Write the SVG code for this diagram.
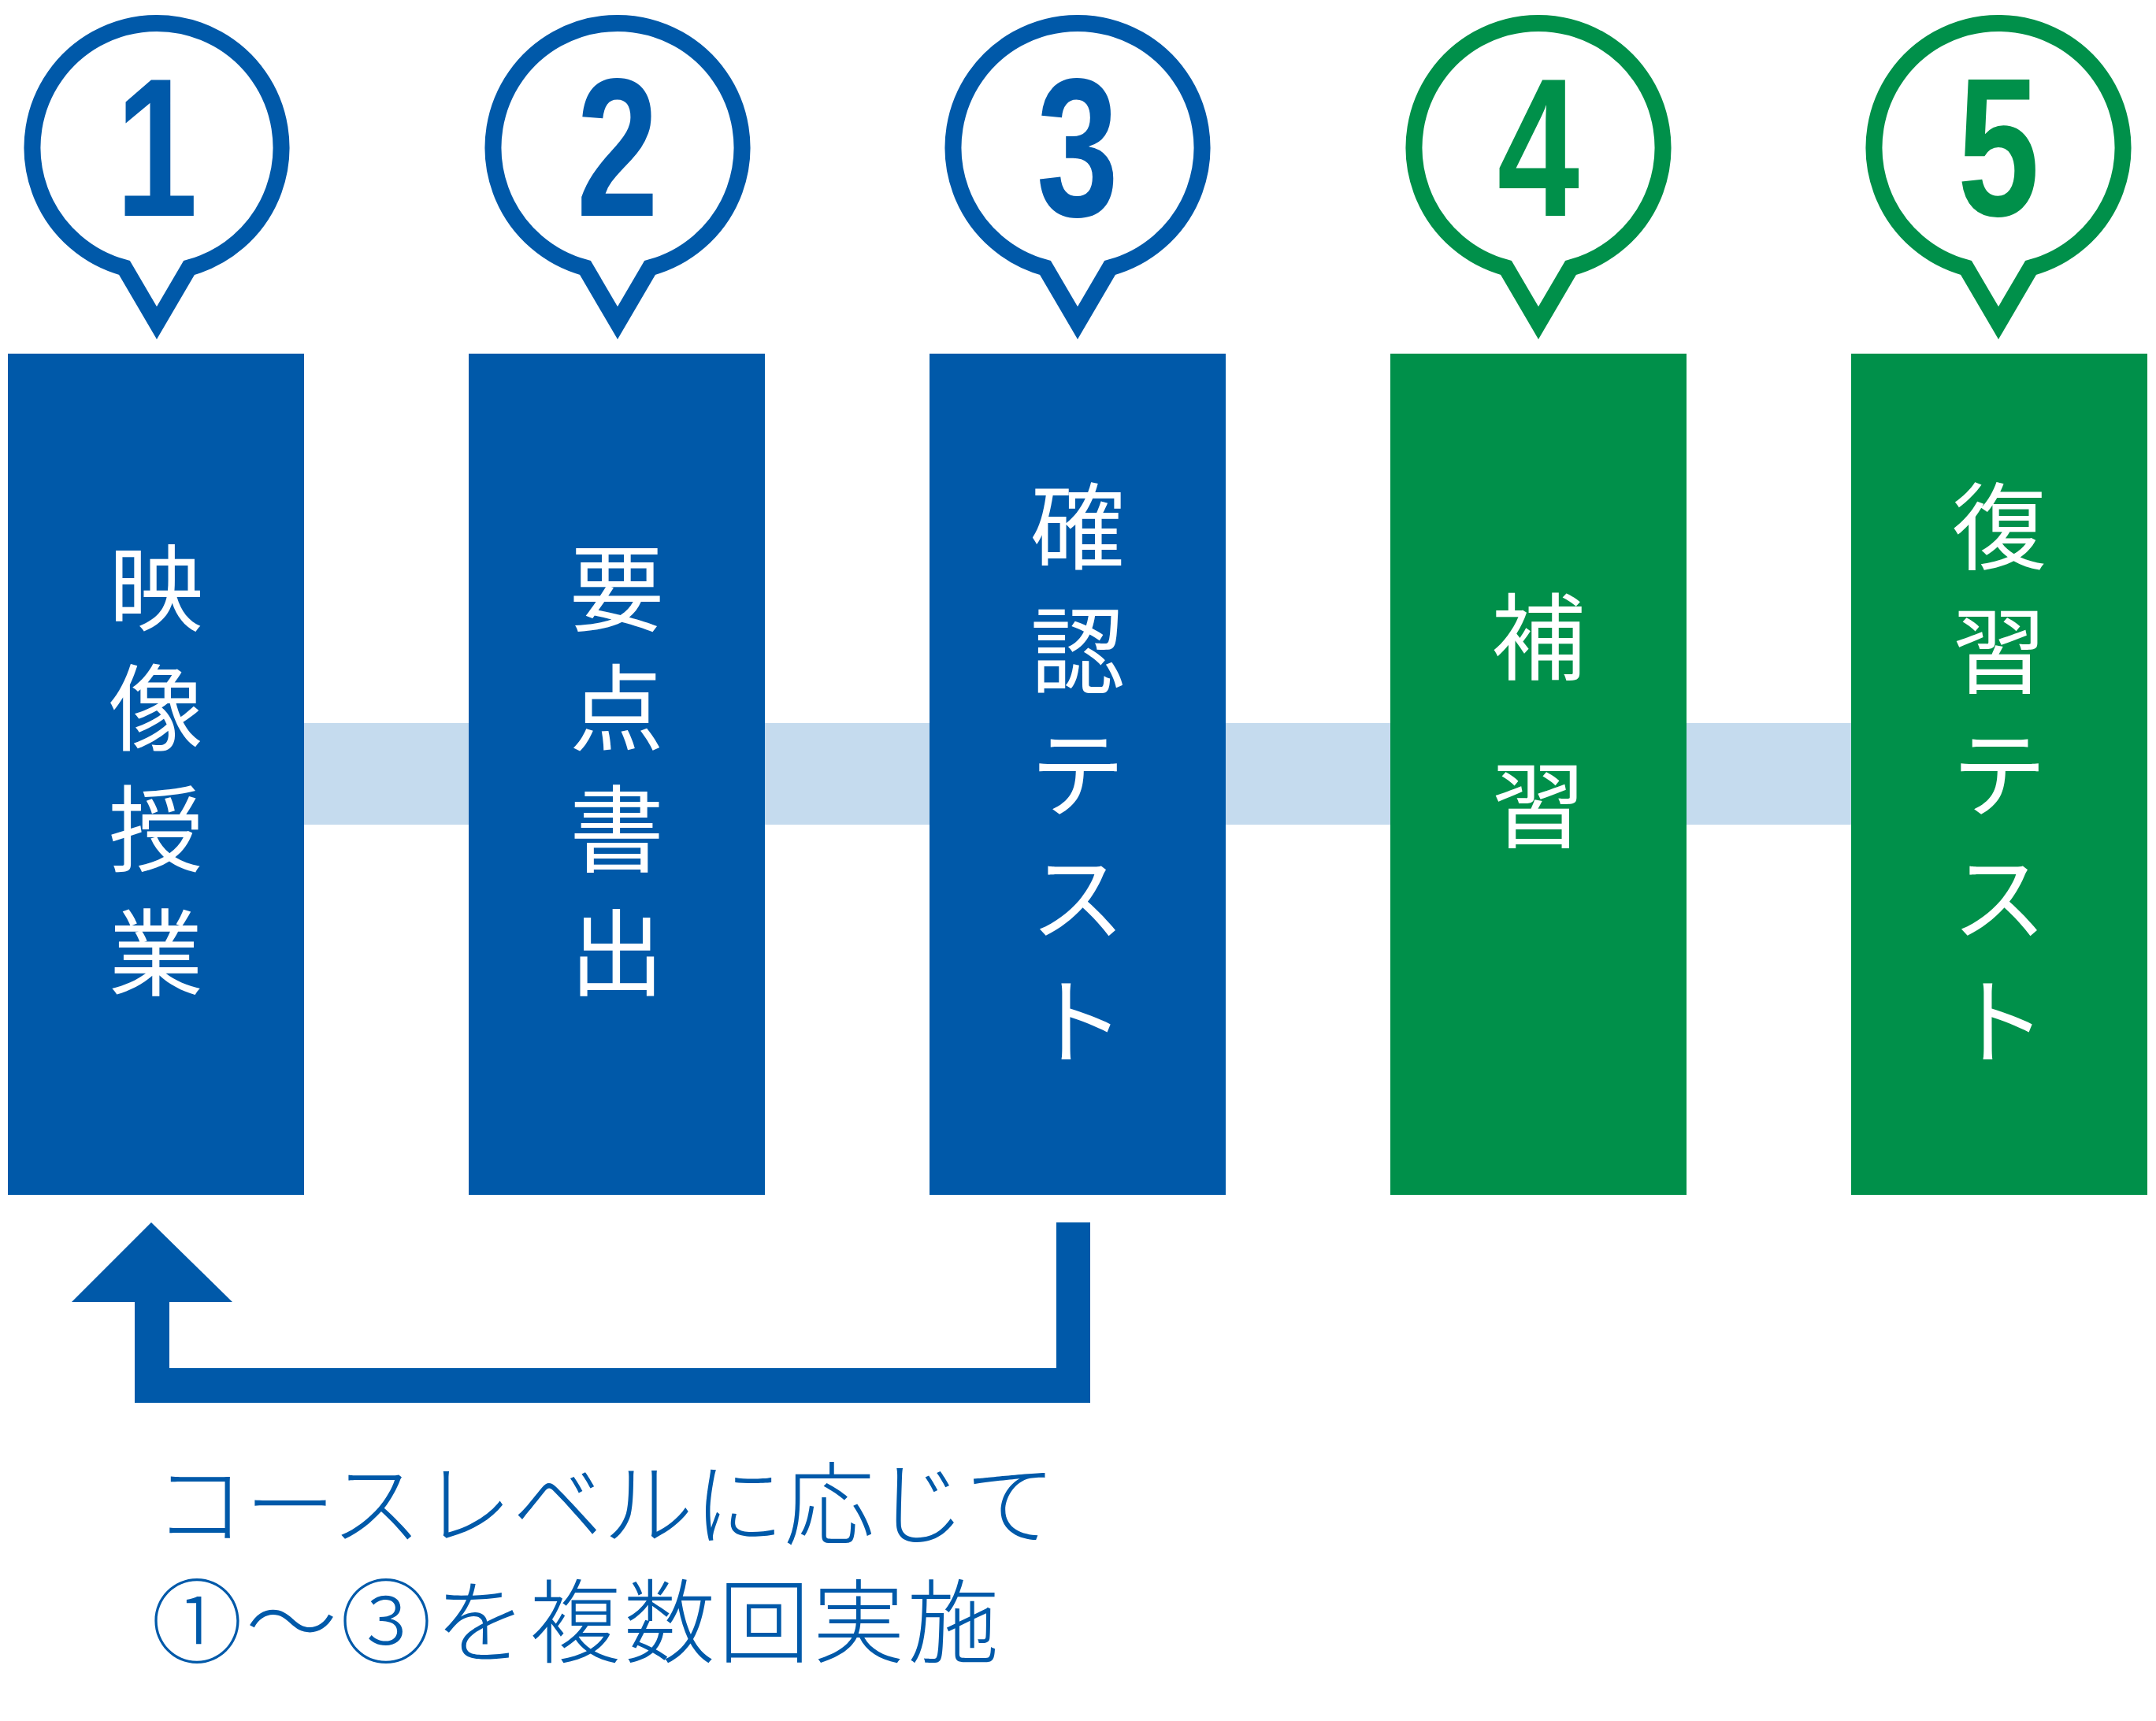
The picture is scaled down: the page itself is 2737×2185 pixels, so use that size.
<svg xmlns="http://www.w3.org/2000/svg" width="2737" height="2185" viewBox="0 0 2737 2185">
<style>
.b{fill:#0059a9}.g{fill:#00904a}
.pb{fill:#fff;stroke:#0059a9;stroke-width:21}
.pg{fill:#fff;stroke:#00904a;stroke-width:21}
.n{font-family:"Liberation Sans",sans-serif;font-weight:bold;font-size:250px;text-anchor:middle}
.t{font-family:"Noto Sans CJK JP",sans-serif;font-size:120px;fill:#fff;text-anchor:middle}
.c{font-family:"Noto Sans CJK JP",sans-serif;fill:#0059a9;font-weight:300}
</style>
<defs>
<path id="pin" d="M-41,340 A158,158 0 1 1 41,340 L0,410 Z"/>
</defs>
<rect x="380" y="918" width="1980" height="129" fill="#c5dbee"/>
<g id="n1"><use href="#pin" x="199" class="pb"/><text transform="translate(199,274) scale(0.75,1)" class="n b">1</text>
<rect x="10" y="449" width="376" height="1068" class="b"/>
<text class="t"><tspan x="198" y="792">映</tspan><tspan x="198" y="944">像</tspan><tspan x="198" y="1098">授</tspan><tspan x="198" y="1255">業</tspan></text></g>
<g id="n2"><use href="#pin" x="784" class="pb"/><text transform="translate(784,274) scale(0.75,1)" class="n b">2</text>
<rect x="595" y="449" width="376" height="1068" class="b"/>
<text class="t"><tspan x="783" y="792">要</tspan><tspan x="783" y="944">点</tspan><tspan x="783" y="1098">書</tspan><tspan x="783" y="1255">出</tspan></text></g>
<g id="n3"><use href="#pin" x="1368" class="pb"/><text transform="translate(1368,274) scale(0.75,1)" class="n b">3</text>
<rect x="1180" y="449" width="376" height="1068" class="b"/>
<text class="t"><tspan x="1368" y="714">確</tspan><tspan x="1368" y="871">認</tspan><tspan x="1368" y="1028">テ</tspan><tspan x="1368" y="1185">ス</tspan><tspan x="1368" y="1342">ト</tspan></text></g>
<g id="n4"><use href="#pin" x="1953" class="pg"/><text transform="translate(1953,274) scale(0.75,1)" class="n g">4</text>
<rect x="1765" y="449" width="376" height="1068" class="g"/>
<text class="t"><tspan x="1953" y="854">補</tspan><tspan x="1953" y="1067">習</tspan></text></g>
<g id="n5"><use href="#pin" x="2537" class="pg"/><text transform="translate(2537,274) scale(0.75,1)" class="n g">5</text>
<rect x="2350" y="449" width="376" height="1068" class="g"/>
<text class="t"><tspan x="2538" y="714">復</tspan><tspan x="2538" y="871">習</tspan><tspan x="2538" y="1028">テ</tspan><tspan x="2538" y="1185">ス</tspan><tspan x="2538" y="1342">ト</tspan></text></g>
<g id="connectors">
<polygon class="b" points="192,1552 295,1653 215,1653 215,1737 1341,1737 1341,1552 1384,1552 1384,1781 171,1781 171,1653 91,1653"/>
</g>
<g id="caption">
<text class="c" x="196" y="1952" font-size="115">コースレベルに応じて</text>
<text class="c" x="192" y="2102" font-size="116" letter-spacing="4">①〜③を複数回実施</text>
</g>
</svg>
